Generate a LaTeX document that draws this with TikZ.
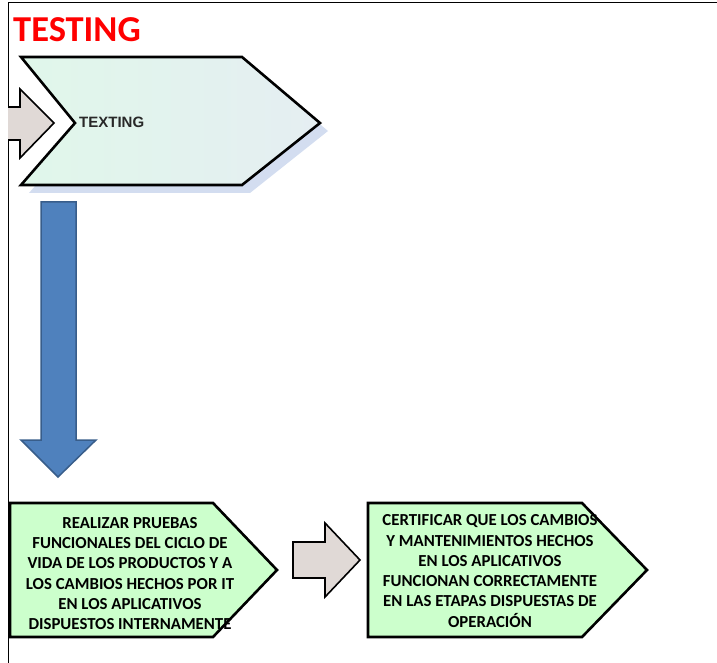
\documentclass[tikz,border=0pt]{standalone}
\usepackage{fontspec}
\setmainfont{Carlito}
\newfontfamily\arialfont{Liberation Sans}
\definecolor{boxgreen}{HTML}{CCFFCC}
\definecolor{arrowgray}{HTML}{E0D9D6}
\definecolor{blueFill}{HTML}{4F81BD}
\definecolor{blueLine}{HTML}{385D8A}
\definecolor{shadowBlue}{HTML}{D3DDF0}
\definecolor{titlered}{HTML}{FF0000}
\tikzset{
  outlined/.style={draw=black, line width=2.6pt, line join=miter},
  blockarrow/.style={draw=black, line width=1.6pt, fill=arrowgray, line join=miter},
  boxtext/.style={font=\fontsize{16.8}{20.3}\selectfont\bfseries, align=center, text=black, inner sep=0pt},
}
\begin{document}
\begin{tikzpicture}[x=1pt,y=-1pt]
\useasboundingbox (0,0) rectangle (717,663);
% frame
\draw[line width=1pt] (717,3) -- (8,3) -- (8,663);
% title
\node[anchor=west, text=titlered, font=\fontsize{36.5}{40}\selectfont\bfseries, inner sep=0pt] (title) at (13,30) {TESTING};
% top chevron shadow
\fill[shadowBlue] (29,65) -- (250,65) -- (328,131) -- (250,193) -- (29,193) -- (83,131) -- cycle;
% small left arrow
\draw[blockarrow] (8,107) -- (20,107) -- (20,89) -- (54,123) -- (20,158) -- (20,140) -- (8,140);
% top chevron
\shade[left color={rgb,255:red,224;green,247;blue,234}, right color={rgb,255:red,229;green,238;blue,242}]
  (21,57) -- (242,57) -- (320,123) -- (242,185) -- (21,185) -- (75,123) -- cycle;
\draw[outlined] (21,57) -- (242,57) -- (320,123) -- (242,185) -- (21,185) -- (75,123) -- cycle;
\node[anchor=west, font=\arialfont\fontsize{15}{16}\selectfont\bfseries, text={rgb,255:red,40;green,40;blue,40}, inner sep=0pt] (texting) at (79,122) {TEXTING};
% blue down arrow
\draw[fill=blueFill, draw=blueLine, line width=1.5pt, line join=miter]
  (41,202) -- (76,202) -- (76,440) -- (96,440) -- (58,477) -- (21,440) -- (41,440) -- cycle;
% left box
\draw[outlined, fill=boxgreen] (10,503) -- (213,503) -- (277,570) -- (213,637) -- (10,637) -- cycle;
\node[boxtext] (left) at (130,573.5) {REALIZAR PRUEBAS\\FUNCIONALES DEL CICLO DE\\VIDA DE LOS PRODUCTOS Y A\\LOS CAMBIOS HECHOS POR IT\\EN LOS APLICATIVOS\\DISPUESTOS INTERNAMENTE};
% middle arrow
\draw[blockarrow] (293,542) -- (325,542) -- (325,523) -- (360,560) -- (325,597) -- (325,578) -- (293,578) -- cycle;
% right box
\draw[outlined, fill=boxgreen] (368,503) -- (582,503) -- (647,570) -- (582,637) -- (368,637) -- cycle;
\node[boxtext] (right) at (490,571) {CERTIFICAR QUE LOS CAMBIOS\\Y MANTENIMIENTOS HECHOS\\EN LOS APLICATIVOS\\FUNCIONAN CORRECTAMENTE\\EN LAS ETAPAS DISPUESTAS DE\\OPERACIÓN};
\end{tikzpicture}
\end{document}
